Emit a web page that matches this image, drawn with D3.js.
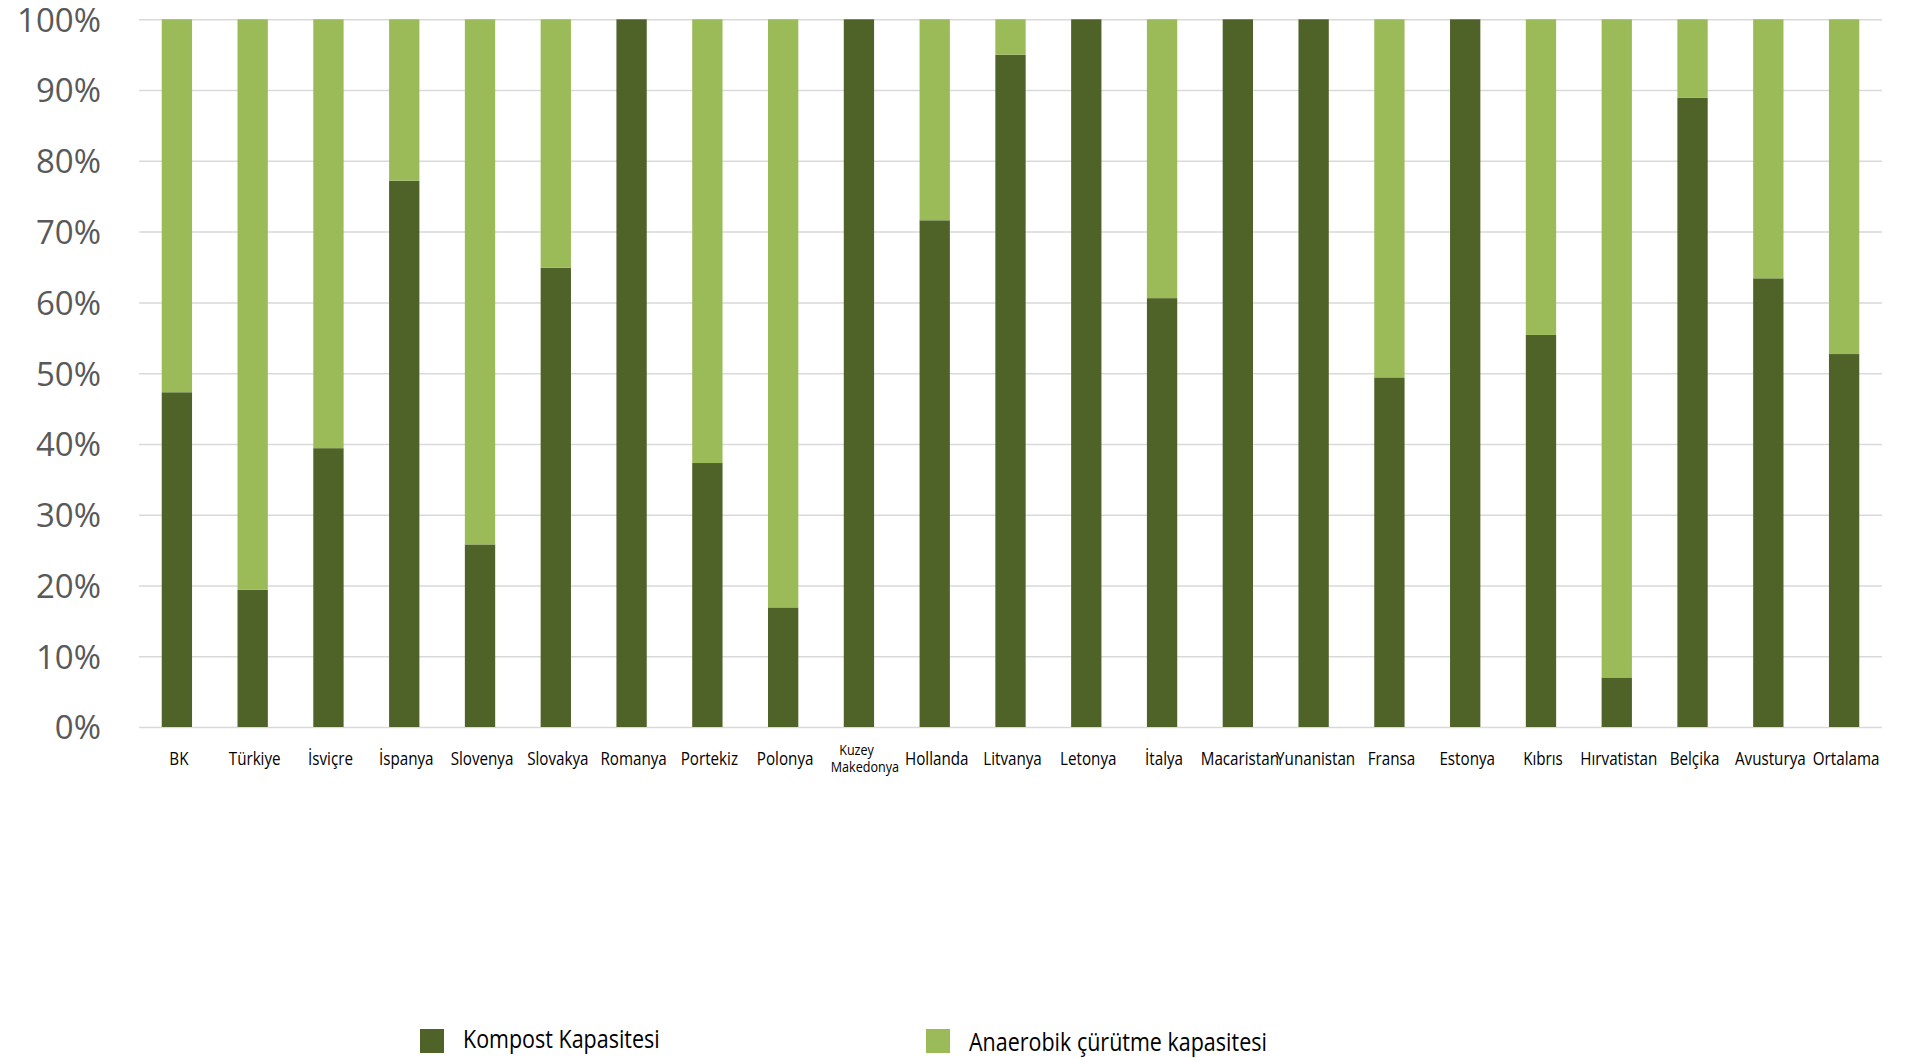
<!DOCTYPE html>
<html>
<head>
<meta charset="utf-8">
<script src="https://cdn.jsdelivr.net/npm/d3@7"></script>
<style>
  body { margin: 0; background: #fff; }
  .cat { font-family: "Open Sans", sans-serif; fill: #000; }
  .ylab text { font-family: "Open Sans", sans-serif; font-size: 33px; fill: #595959; }
</style>
</head>
<body>
<div id="viz"></div>
<script>
const w = 1916;
const h = 1058;

// categories (countries)
const countries = ['BK', 'Türkiye', 'İsviçre', 'İspanya', 'Slovenya', 'Slovakya', 'Romanya', 'Portekiz',
  'Polonya', 'Kuzey Makedonya', 'Hollanda', 'Litvanya', 'Letonya', 'İtalya', 'Macaristan', 'Yunanistan',
  'Fransa', 'Estonya', 'Kıbrıs', 'Hırvatistan', 'Belçika', 'Avusturya', 'Ortalama'];

// share of compost capacity (%)
const kompost = [47.3, 19.4, 39.4, 77.2, 25.8, 64.9, 100, 37.3, 16.9, 100, 71.6, 95.0, 100, 60.6, 100, 100,
  49.4, 100, 55.4, 7.0, 88.9, 63.4, 52.7];

// share of anaerobic digestion capacity (%)
const anaerobik = kompost.map(v => +(100 - v).toFixed(1));

const seriesNames = ['Kompost Kapasitesi', 'Anaerobik çürütme kapasitesi'];
const seriesColors = ['#4f6228', '#9bbb59'];
const yTicks = [0, 10, 20, 30, 40, 50, 60, 70, 80, 90, 100];

const margin = { left: 139, right: 34, top: 19.3, bottom: 331 };

const svg = d3.select('#viz').append('svg')
    .attr('width', w)
    .attr('height', h)

const x = d3.scaleBand()
    .domain(countries)
    .range([margin.left, w - margin.right])
    .paddingInner(0.6)
    .paddingOuter(0.3)

const y = d3.scaleLinear()
    .domain([0, 100])
    .range([h - margin.bottom, margin.top])

// gridlines + labels
let yAxis = svg.append('g')
    .attr('class', 'ylab')
    .attr('transform', `translate(${margin.left},0)`)
    .call(d3.axisLeft(y).tickValues(yTicks).tickFormat(d => d + '%')
        .tickSize(-(w - margin.left - margin.right)).tickPadding(38))
yAxis.select('.domain').remove()
yAxis.selectAll('line').attr('stroke', '#d9d9d9').attr('stroke-width', 1.5)
yAxis.selectAll('text').attr('dy', '0.36em')

// stacked bars
const rows = countries.map((c, i) => ({ country: c, kompost: kompost[i], anaerobik: anaerobik[i] }))
const stack = d3.stack().keys(['kompost', 'anaerobik'])(rows)

svg.append('g').selectAll('g')
    .data(stack)
    .join('g')
    .attr('fill', (d, i) => seriesColors[i])
    .selectAll('rect')
    .data(d => d)
    .join('rect')
    .attr('x', d => x(d.data.country))
    .attr('width', x.bandwidth())
    .attr('y', d => y(Math.min(d[1], 100)))
    .attr('height', d => y(d[0]) - y(Math.min(d[1], 100)))

// category labels (narrowed to look like the original condensed face)
let catGroup = svg.append('g')
countries.forEach(c => {
    const cx = x(c) + x.bandwidth() / 2
    if (c === 'Kuzey Makedonya') {
        let t = catGroup.append('text').attr('class', 'cat')
            .attr('text-anchor', 'middle').attr('font-size', 15)
            .attr('transform', `translate(${cx + 6},0) scale(0.84,1)`)
        t.append('tspan').attr('x', -10).attr('y', 755).text('Kuzey')
        t.append('tspan').attr('x', 0).attr('y', 772).text('Makedonya')
    } else {
        catGroup.append('text').attr('class', 'cat')
            .attr('transform', `translate(${cx + 2},765) scale(0.8,1)`)
            .attr('text-anchor', 'middle')
            .attr('font-size', 19)
            .text(c)
    }
})

// legend
const legendX = [420, 926]
let legend = svg.append('g')
seriesNames.forEach((name, i) => {
    legend.append('rect')
        .attr('x', legendX[i]).attr('y', 1029)
        .attr('width', 24).attr('height', 24)
        .attr('fill', seriesColors[i])
    legend.append('text').attr('class', 'cat')
        .attr('transform', `translate(${legendX[i] + 43},${1048 + i * 3}) scale(0.86,1)`)
        .attr('font-size', 25)
        .text(name)
})
</script>
</body>
</html>
